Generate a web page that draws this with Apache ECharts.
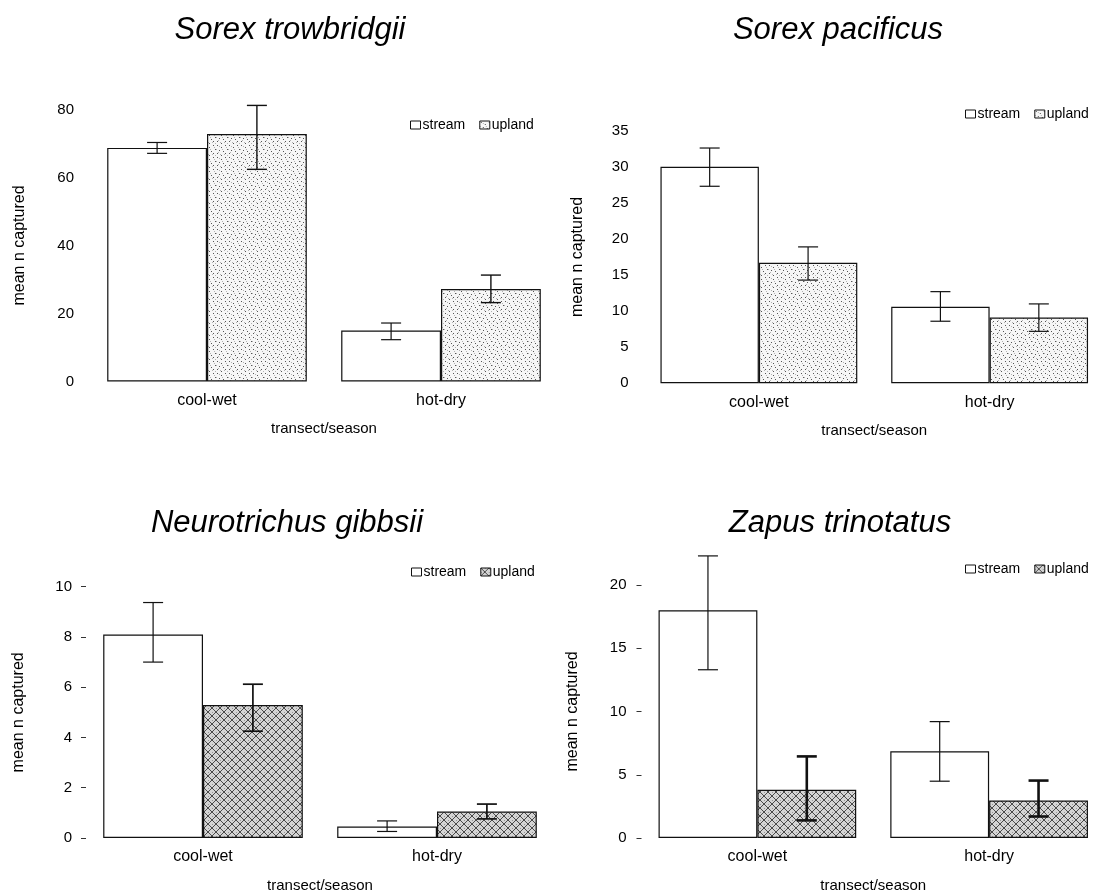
<!DOCTYPE html>
<html>
<head>
<meta charset="utf-8">
<script src="https://cdn.jsdelivr.net/npm/echarts@6/dist/echarts.min.js"></script>
<style>
html,body{margin:0;padding:0;background:#fff;}
#chart{width:1105px;height:894px;}
</style>
</head>
<body>
<div id="chart"></div>
<script>
// ---------- DATA ----------
const categories = ['cool-wet', 'hot-dry'];
const seriesNames = ['stream', 'upland'];
const panelTitles = ['Sorex trowbridgii', 'Sorex pacificus', 'Neurotrichus gibbsii', 'Zapus trinotatus'];
const yAxisName = 'mean n captured';
const xAxisName = 'transect/season';

// Sorex trowbridgii
const trowbridgiiStream = [68.7, 15.0];
const trowbridgiiStreamErr = [[67.1, 70.3], [12.3, 17.2]];
const trowbridgiiUpland = [72.8, 27.2];
const trowbridgiiUplandErr = [[62.4, 81.2], [23.2, 31.3]];

// Sorex pacificus
const pacificusStream = [30.0, 10.6];
const pacificusStreamErr = [[27.3, 32.6], [8.6, 12.7]];
const pacificusUpland = [16.7, 9.1];
const pacificusUplandErr = [[14.3, 18.9], [7.2, 11.0]];

// Neurotrichus gibbsii
const gibbsiiStream = [8.1, 0.46];
const gibbsiiStreamErr = [[7.0, 9.37], [0.26, 0.68]];
const gibbsiiUpland = [5.29, 1.05];
const gibbsiiUplandErr = [[4.25, 6.12], [0.76, 1.35]];

// Zapus trinotatus
const zapusStream = [18.0, 6.86];
const zapusStreamErr = [[13.3, 22.3], [4.49, 9.2]];
const zapusUpland = [3.82, 2.97];
const zapusUplandErr = [[1.39, 6.45], [1.7, 4.54]];

// y-axis tick settings
const yMaxes = [80, 35, 10, 20];
const yIntervals = [20, 5, 2, 5];

// ---------- STYLE / LAYOUT ----------
const FONT = '"Liberation Sans", Arial, Helvetica, sans-serif';
const GAP = 0.147;

function stipplePattern() {
  const c = document.createElement('canvas');
  c.width = 12; c.height = 12;
  const g = c.getContext('2d');
  g.fillStyle = '#f6f6f6'; g.fillRect(0, 0, 12, 12);
  const dark = [[1,1],[5,3],[9,1],[3,6],[7,7],[11,5],[1,9],[5,11],[9,9]];
  const mid = [[3,2],[10,3],[6,5],[2,8],[8,10],[11,11],[4,10],[0,5]];
  g.fillStyle = '#555';
  dark.forEach(p => g.fillRect(p[0], p[1], 1, 1));
  g.fillStyle = '#b4b4b4';
  mid.forEach(p => g.fillRect(p[0], p[1], 1, 1));
  return c;
}
function hatchPattern() {
  const c = document.createElement('canvas');
  c.width = 8; c.height = 8;
  const g = c.getContext('2d');
  g.fillStyle = '#d4d4d4'; g.fillRect(0, 0, 8, 8);
  g.fillStyle = '#4a4a4a';
  for (let i = 0; i < 8; i++) {
    g.fillRect(i, i, 1, 1);
    g.fillRect(7 - i, i, 1, 1);
  }
  g.fillStyle = '#999';
  g.fillRect(4, 0, 1, 1); g.fillRect(0, 4, 1, 1);
  return c;
}
const stipple = { image: stipplePattern(), repeat: 'repeat' };
const hatch = { image: hatchPattern(), repeat: 'repeat' };

const panels = [
  { title: panelTitles[0], stream: trowbridgiiStream, streamErr: trowbridgiiStreamErr, upland: trowbridgiiUpland, uplandErr: trowbridgiiUplandErr,
    grid: { left: 90, top: 109.5, width: 468, height: 272 }, titleX: 290, titleY: 15,
    legend: { left: 410, top: 118 }, fill: stipple, ticks: false, nameGapY: 62, labelMargin: 16, errW: [1.2, 1.4] },
  { title: panelTitles[1], stream: pacificusStream, streamErr: pacificusStreamErr, upland: pacificusUpland, uplandErr: pacificusUplandErr,
    grid: { left: 643.5, top: 130.7, width: 464, height: 252.6 }, titleX: 838, titleY: 15,
    legend: { left: 965, top: 107 }, fill: stipple, ticks: false, nameGapY: 58, labelMargin: 15, errW: [1.2, 1.2] },
  { title: panelTitles[2], stream: gibbsiiStream, streamErr: gibbsiiStreamErr, upland: gibbsiiUpland, uplandErr: gibbsiiUplandErr,
    grid: { left: 86, top: 586.7, width: 468, height: 253.3 }, titleX: 287, titleY: 508,
    legend: { left: 411, top: 565 }, fill: hatch, ticks: true, nameGapY: 59, labelMargin: 14, errW: [1.2, 1.7] },
  { title: panelTitles[3], stream: zapusStream, streamErr: zapusStreamErr, upland: zapusUpland, uplandErr: zapusUplandErr,
    grid: { left: 641.5, top: 585, width: 467, height: 254.3 }, titleX: 840, titleY: 508,
    legend: { left: 965, top: 562 }, fill: hatch, ticks: true, nameGapY: 61, labelMargin: 15, errW: [1.2, 2.6] }
];

function errRenderer(sign, lw) {
  return function (params, api) {
    const cat = api.value(0), lo = api.value(1), hi = api.value(2);
    const band = api.size([1, 0])[0];
    const bw = band * (1 - GAP) / 2;
    const pLo = api.coord([cat, lo]);
    const pHi = api.coord([cat, hi]);
    const cx = pLo[0] + sign * bw / 2;
    const cap = 10;
    const st = { stroke: '#111', lineWidth: lw };
    return {
      type: 'group',
      children: [
        { type: 'line', shape: { x1: cx, y1: pLo[1], x2: cx, y2: pHi[1] }, style: st },
        { type: 'line', shape: { x1: cx - cap, y1: pHi[1], x2: cx + cap, y2: pHi[1] }, style: st },
        { type: 'line', shape: { x1: cx - cap, y1: pLo[1], x2: cx + cap, y2: pLo[1] }, style: st }
      ]
    };
  };
}

const option = {
  backgroundColor: '#ffffff',
  animation: false,
  textStyle: { fontFamily: FONT, color: '#000' },
  title: [], grid: [], xAxis: [], yAxis: [], legend: [], series: []
};

panels.forEach((p, i) => {
  option.title.push({
    text: p.title, left: p.titleX, top: p.titleY, textAlign: 'center', padding: 0,
    textStyle: { fontFamily: FONT, fontStyle: 'italic', fontWeight: 'normal', fontSize: 31, color: '#000' }
  });
  option.grid.push(Object.assign({ containLabel: false }, p.grid));
  option.xAxis.push({
    type: 'category', gridIndex: i, data: categories,
    axisLine: { show: false }, axisTick: { show: false },
    axisLabel: { fontFamily: FONT, fontSize: 16, color: '#000', margin: 11 },
    name: xAxisName, nameLocation: 'middle', nameGap: 40,
    nameTextStyle: { fontFamily: FONT, fontSize: 15, color: '#000' }
  });
  option.yAxis.push({
    type: 'value', gridIndex: i, min: 0, max: yMaxes[i], interval: yIntervals[i],
    splitLine: { show: false }, axisLine: { show: false },
    axisTick: { show: p.ticks, length: 5, lineStyle: { color: '#333', width: 1 } },
    axisLabel: { fontFamily: FONT, fontSize: 15, color: '#000', margin: p.labelMargin },
    name: yAxisName, nameLocation: 'middle', nameGap: p.nameGapY, nameRotate: 90,
    nameTextStyle: { fontFamily: FONT, fontSize: 16, color: '#000' }
  });
  option.legend.push({
    left: p.legend.left, top: p.legend.top, padding: 0, itemGap: 14,
    itemWidth: 10, itemHeight: 8, icon: 'rect', selectedMode: false,
    textStyle: { fontFamily: FONT, fontSize: 14, color: '#000', padding: [0, 0, 0, -3] },
    data: [
      { name: 'stream', itemStyle: { color: '#fff', borderColor: '#111', borderWidth: 1 } },
      { name: 'upland', itemStyle: { color: p.fill, borderColor: '#111', borderWidth: 1 } }
    ]
  });
  option.series.push({
    name: 'stream', type: 'bar', xAxisIndex: i, yAxisIndex: i, data: p.stream,
    barGap: '0%', barCategoryGap: (GAP * 100) + '%',
    itemStyle: { color: '#fff', borderColor: '#111', borderWidth: 1.2 }
  });
  option.series.push({
    name: 'upland', type: 'bar', xAxisIndex: i, yAxisIndex: i, data: p.upland,
    barGap: '0%', barCategoryGap: (GAP * 100) + '%',
    itemStyle: { color: p.fill, borderColor: '#111', borderWidth: 1.2 }
  });
  option.series.push({
    name: 'stream-err', type: 'custom', xAxisIndex: i, yAxisIndex: i, clip: false, z: 5,
    renderItem: errRenderer(-1, p.errW[0]),
    encode: { x: 0, y: [1, 2] },
    data: p.streamErr.map((e, k) => [k, e[0], e[1]])
  });
  option.series.push({
    name: 'upland-err', type: 'custom', xAxisIndex: i, yAxisIndex: i, clip: false, z: 5,
    renderItem: errRenderer(1, p.errW[1]),
    encode: { x: 0, y: [1, 2] },
    data: p.uplandErr.map((e, k) => [k, e[0], e[1]])
  });
});

const chart = echarts.init(document.getElementById('chart'), null, { renderer: 'canvas' });
chart.setOption(option);
</script>
</body>
</html>
